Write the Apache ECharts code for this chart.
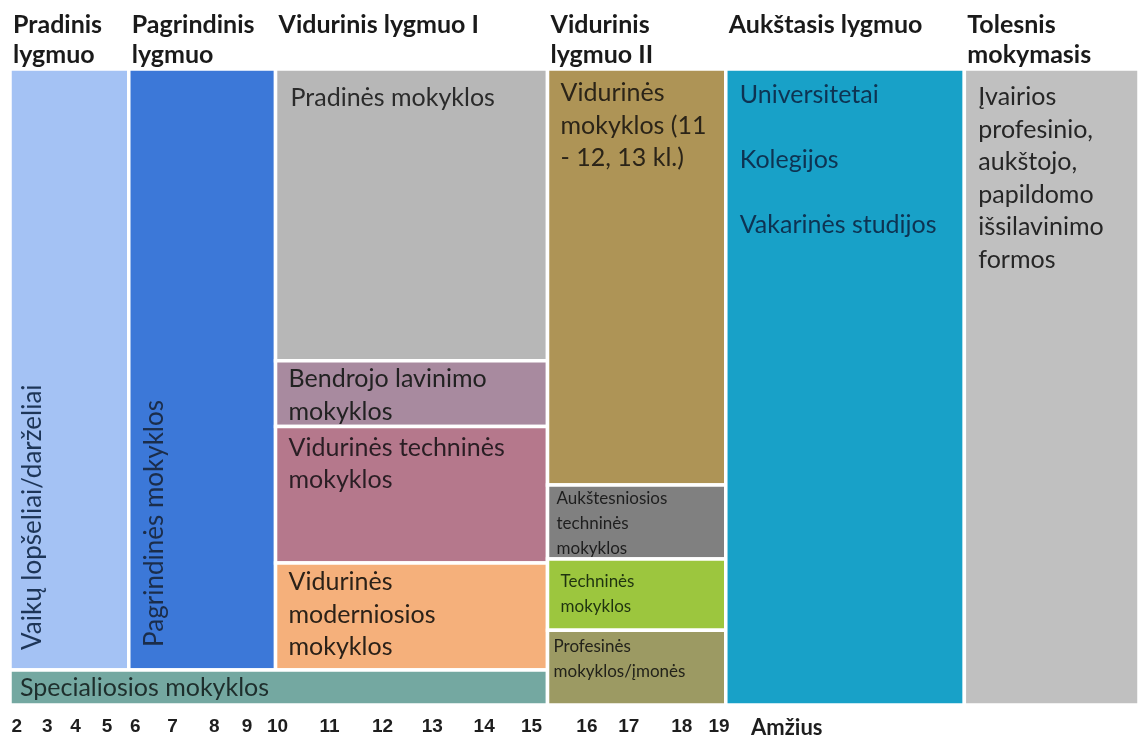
<!DOCTYPE html>
<html>
<head>
<meta charset="utf-8">
<title>Švietimo sistema</title>
<script src="https://cdn.jsdelivr.net/npm/echarts@6/dist/echarts.min.js"></script>
<style>
  html, body { margin: 0; padding: 0; background: #fff; }
  #chart { width: 1139px; height: 739px; }
</style>
</head>
<body>
<div id="chart"></div>
<script>
// schema in relative units: x = share of width (0-100), y = share of height from bottom (0-100)
const headerNames = ['Pradinis\nlygmuo', 'Pagrindinis\nlygmuo', 'Vidurinis lygmuo I', 'Vidurinis\nlygmuo II', 'Aukštasis lygmuo', 'Tolesnis\nmokymasis']
const columnEdges = [0, 10.52, 23.52, 47.61, 63.4, 84.53, 100]

const boxNames = [
  'Vaikų lopšeliai/darželiai',
  'Pagrindinės mokyklos',
  'Pradinės mokyklos',
  'Bendrojo lavinimo\nmokyklos',
  'Vidurinės techninės\nmokyklos',
  'Vidurinės\nmoderniosios\nmokyklos',
  'Specialiosios mokyklos',
  'Vidurinės\nmokyklos (11\n- 12, 13 kl.)',
  'Aukštesniosios\ntechninės\nmokyklos',
  'Techninės\nmokyklos',
  'Profesinės\nmokyklos/įmonės',
  'Universitetai\n\nKolegijos\n\nVakarinės studijos',
  'Įvairios\nprofesinio,\naukštojo,\npapildomo\nišsilavinimo\nformos',
]
const boxX0 = [0, 10.52, 23.52, 23.52, 23.52, 23.52, 0, 47.61, 47.61, 47.61, 47.61, 63.4, 84.53]
const boxX1 = [10.52, 23.52, 47.61, 47.61, 47.61, 47.61, 47.61, 63.4, 63.4, 63.4, 63.4, 84.53, 100]
const boxY0 = [5.52, 5.52, 54.12, 43.78, 22.32, 5.52, 0, 34.6, 22.94, 11.74, 0, 0, 0]
const boxY1 = [100, 100, 100, 54.12, 43.78, 22.32, 5.52, 100, 34.6, 22.94, 11.74, 100, 100]

const ageTickPos = [0.6, 3.3, 5.8, 8.6, 11.1, 14.4, 18.1, 21.0, 23.7, 28.3, 33.0, 37.4, 42.0, 46.2, 51.1, 54.8, 59.5, 62.8]
const ageTickLabels = ['2', '3', '4', '5', '6', '7', '8', '9', '10', '11', '12', '13', '14', '15', '16', '17', '18', '19']
const axisTitlePos = 68.8
const axisTitle = 'Amžius'

// styles
const boxColors = ['#a4c2f4', '#3c78d8', '#b7b7b7', '#a88a9f', '#b5788c', '#f5b07b', '#74a8a1',
  '#ae9456', '#808080', '#9cc63e', '#9c9a63', '#18a1c8', '#c0c0c0']
const boxTextColors = ['#1d3557', '#1b2d4a', '#2b2b2b', '#222', '#2a1e24', '#2b2118', '#1e2e2c',
  '#2b2418', '#1e1e1e', '#1f3310', '#22221a', '#0e3352', '#262626']
// kind: 'v' vertical, 's' small, 'm' middle line, default top-left
const boxKind = ['v', 'v', '', '', '', '', 'm', '', 's', 's', 's', '', '']
// label offsets inside each box, px
const boxTextDx = [23, 26, 15, 13, 13, 13, 10, 13, 9, 13, 6, 14, 14]
const boxTextDy = [20, 23, 13, 2, 5, 3, 0, 8, 1, 10, 4, 10, 12]
const textFont = '25px Lato'
const smallFont = '17px Lato'

const chart = echarts.init(document.getElementById('chart'))

function renderBox(params, api) {
  const i = api.value(4)
  const p0 = api.coord([api.value(0), api.value(3)])
  const p1 = api.coord([api.value(1), api.value(2)])
  const rect = {
    type: 'rect',
    shape: { x: p0[0], y: p0[1], width: p1[0] - p0[0], height: p1[1] - p0[1] },
    style: { fill: boxColors[i], stroke: '#fff', lineWidth: 3.5 },
  }
  const kind = boxKind[i]
  const dx = boxTextDx[i]
  const dy = boxTextDy[i]
  let text
  if (kind === 'v') {
    text = {
      type: 'text', x: p0[0] + dx, y: p1[1] - dy, rotation: Math.PI / 2,
      style: { text: boxNames[i], font: '26px Lato', fill: boxTextColors[i], align: 'left', verticalAlign: 'middle' },
    }
  } else if (kind === 'm') {
    text = {
      type: 'text', x: p0[0] + dx, y: (p0[1] + p1[1]) / 2 + dy,
      style: { text: boxNames[i], font: textFont, fill: boxTextColors[i], align: 'left', verticalAlign: 'middle' },
    }
  } else if (kind === 's') {
    text = {
      type: 'text', x: p0[0] + dx, y: p0[1] + dy,
      style: { text: boxNames[i], font: smallFont, fill: boxTextColors[i], lineHeight: 25, align: 'left', verticalAlign: 'top' },
    }
  } else {
    text = {
      type: 'text', x: p0[0] + dx, y: p0[1] + dy,
      style: { text: boxNames[i], font: textFont, fill: boxTextColors[i], lineHeight: 32.5, align: 'left', verticalAlign: 'top' },
    }
  }
  return { type: 'group', children: [rect, text] }
}

function renderHeader(params, api) {
  const p = api.coord([api.value(0), 100])
  return {
    type: 'text', x: p[0] + 3, y: p[1] - 59,
    style: { text: headerNames[api.value(1)], font: 'bold 25px Lato', fill: '#1a1a1a', lineHeight: 30, align: 'left', verticalAlign: 'top' },
  }
}

chart.setOption({
  animation: false,
  grid: { left: 10, right: -2, top: 69, bottom: 27 },
  xAxis: {
    type: 'value', min: 0, max: 100,
    axisLine: { show: false }, axisTick: { show: false }, splitLine: { show: false },
    axisLabel: {
      customValues: [...ageTickPos, axisTitlePos],
      margin: 12,
      color: '#1e1e1e',
      fontFamily: 'Liberation Sans', fontWeight: 'bold', fontSize: 19,
      formatter: (v) => {
        const k = ageTickPos.indexOf(v)
        return k >= 0 ? ageTickLabels[k] : '{t|' + axisTitle + '}'
      },
      rich: { t: { fontFamily: 'Lato', fontWeight: 'bold', fontSize: 22, color: '#1e1e1e' } },
    },
  },
  yAxis: { type: 'value', min: 0, max: 100, show: false },
  series: [
    {
      type: 'custom',
      renderItem: renderBox,
      data: boxNames.map((n, i) => [boxX0[i], boxX1[i], boxY0[i], boxY1[i], i]),
    },
    {
      type: 'custom',
      renderItem: renderHeader,
      data: headerNames.map((n, i) => [columnEdges[i], i]),
    },
  ],
})
</script>
</body>
</html>
